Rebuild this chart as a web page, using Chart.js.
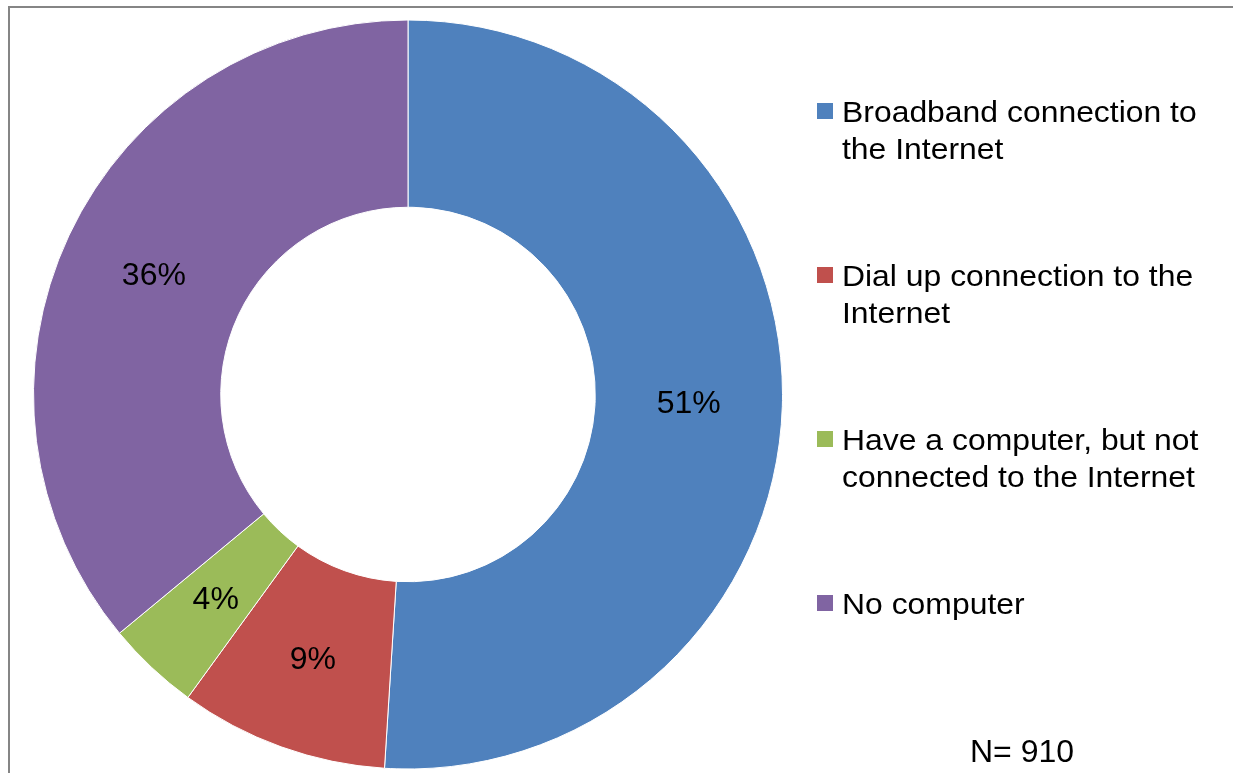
<!DOCTYPE html>
<html>
<head>
<meta charset="utf-8">
<title>Home computer and Internet access</title>
<script src="https://cdn.jsdelivr.net/npm/chart.js@4"></script>
<style>
  html, body { margin: 0; padding: 0; background: #fff; }
  canvas { display: block; }
</style>
</head>
<body>
<canvas id="chart" width="1233" height="773"></canvas>
<script>
const categories = [
  'Broadband connection to the Internet',
  'Dial up connection to the Internet',
  'Have a computer, but not connected to the Internet',
  'No computer'
];
const shares = [51, 9, 4, 36];
const sliceColors = ['#4F81BD', '#C0504D', '#9BBB59', '#8064A2'];
const sampleNote = 'N= 910';

const FONT = "'Liberation Sans', Arial, sans-serif";

// thin grey frame along the top and left edge
const frame = {
  id: 'frame',
  beforeDraw(chart) {
    const ctx = chart.ctx;
    ctx.save();
    ctx.strokeStyle = '#858585';
    ctx.lineWidth = 2;
    ctx.beginPath();
    ctx.moveTo(9, chart.height);
    ctx.lineTo(9, 7);
    ctx.lineTo(chart.width, 7);
    ctx.stroke();
    ctx.restore();
  }
};

// percentage inside each ring segment
const sliceLabels = {
  id: 'sliceLabels',
  afterDatasetsDraw(chart) {
    const ctx = chart.ctx;
    const meta = chart.getDatasetMeta(0);
    const values = chart.data.datasets[0].data;
    ctx.save();
    ctx.font = '32px ' + FONT;
    ctx.fillStyle = '#000';
    ctx.textAlign = 'center';
    ctx.textBaseline = 'middle';
    meta.data.forEach((arc, i) => {
      const p = arc.tooltipPosition();
      ctx.fillText(values[i] + '%', p.x, p.y + 1);
    });
    ctx.restore();
  }
};

function wrapText(ctx, text, maxWidth, sx) {
  const words = text.split(' ');
  const lines = [];
  let line = '';
  words.forEach(w => {
    const test = line ? line + ' ' + w : w;
    if (line && ctx.measureText(test).width * sx > maxWidth) {
      lines.push(line);
      line = w;
    } else {
      line = test;
    }
  });
  if (line) lines.push(line);
  return lines;
}

// legend on the right, text slightly stretched horizontally
const sideLegend = {
  id: 'sideLegend',
  afterDraw(chart) {
    const ctx = chart.ctx;
    const labels = chart.data.labels;
    const colors = chart.data.datasets[0].backgroundColor;
    const boxX = 817, boxSize = 16, textX = 842;
    const firstTop = 103, step = 164, lineH = 37;
    const sx = 1.1;
    ctx.save();
    ctx.font = '29px ' + FONT;
    ctx.fillStyle = '#000';
    ctx.textBaseline = 'alphabetic';
    labels.forEach((label, i) => {
      const top = firstTop + i * step;
      ctx.fillStyle = colors[i];
      ctx.fillRect(boxX, top, boxSize, boxSize);
      ctx.fillStyle = '#000';
      wrapText(ctx, label, 372, sx).forEach((ln, j) => {
        ctx.save();
        ctx.translate(textX, top + 19 + j * lineH);
        ctx.scale(sx, 1);
        ctx.fillText(ln, 0, 0);
        ctx.restore();
      });
    });

    ctx.font = '32px ' + FONT;
    ctx.fillText(sampleNote, 970, 762);
    ctx.restore();
  }
};

new Chart(document.getElementById('chart'), {
  type: 'doughnut',
  data: {
    labels: categories,
    datasets: [{
      data: shares,
      backgroundColor: sliceColors,
      borderColor: '#ffffff',
      borderWidth: 1
    }]
  },
  options: {
    responsive: false,
    animation: false,
    events: [],
    cutout: '50%',
    layout: { padding: { left: 33, right: 450, top: 19, bottom: 3 } },
    plugins: {
      legend: { display: false },
      tooltip: { enabled: false }
    }
  },
  plugins: [frame, sliceLabels, sideLegend]
});
</script>
</body>
</html>
